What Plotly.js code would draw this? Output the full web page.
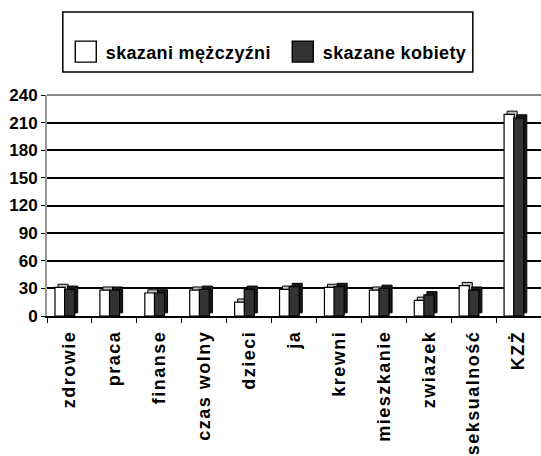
<!DOCTYPE html>
<html><head><meta charset="utf-8">
<script src="https://cdn.plot.ly/plotly-3.0.1.min.js"></script>
<style>
body{margin:0;padding:0;background:#fff}#chart{width:541px;height:456px}
#chart .xtick text{letter-spacing:1.5px}
#chart .legendtext{letter-spacing:0.35px}
</style>
</head><body><div id="chart"></div>
<script>
const categories = ["zdrowie","praca","finanse","czas wolny","dzieci","ja","krewni","mieszkanie","zwiazek","seksualność","KZŻ"];
const men = [31, 28, 25, 28, 15, 29, 31, 28, 17, 33, 219];
const women = [29, 28, 25, 29, 29, 32, 32, 30, 23, 28, 215];
const seriesNames = ["skazani mężczyźni", "skazane kobiety"];
const yTicks = [0,30,60,90,120,150,180,210,240];

const F = "Liberation Sans, Arial, sans-serif";
const W = 0.225, D = 0.067, DY = 3.5;
function front(y, name, color, off){
  return {type:"bar", x:categories, y:y, name:name, width:W, offset:off,
    marker:{color:color, line:{color:"#000", width:1.2}}};
}
function depth(y, color, off){
  return {type:"bar", x:categories, y:y, base:DY, width:W, offset:off+D, showlegend:false,
    marker:{color:color, line:{color:"#000", width:1}}};
}
const traces = [
  depth(men, "#bdbdbd", -0.322),
  front(men, seriesNames[0], "#ffffff", -0.322),
  depth(women, "#1a1a1a", -0.108),
  front(women, seriesNames[1], "#333333", -0.108)
];
const layout = {
  width:541, height:456,
  margin:{l:47, r:0, t:95, b:140},
  paper_bgcolor:"#fff", plot_bgcolor:"#fff",
  barmode:"overlay",
  showlegend:true,
  legend:{orientation:"h", x:0.038, y:1.195, xanchor:"left", yanchor:"middle",
    font:{family:F, size:18, color:"#000", weight:"bold"}, bgcolor:"rgba(0,0,0,0)",
    itemwidth:30, entrywidth:172, entrywidthmode:"pixels", traceorder:"normal"},
  font:{family:F, color:"#000"},
  xaxis:{type:"category", tickangle:-90, tickson:"boundaries", ticks:"outside", ticklen:5,
    tickcolor:"#000", showline:true, linecolor:"#000", linewidth:1.5, ticklabelstandoff:6,
    tickfont:{family:F, size:18, color:"#000", weight:"bold"}, showgrid:false},
  yaxis:{range:[0,240], tickvals:yTicks, ticktext:yTicks.map(String), ticks:"outside", ticklen:4,
    tickcolor:"#000", showline:true, linecolor:"#999", linewidth:2, mirror:false,
    gridcolor:"#000", gridwidth:2, zeroline:false,
    tickfont:{family:F, size:17, color:"#000", weight:"bold"}},
  shapes:[
    {type:"rect", xref:"paper", yref:"paper", x0:0.032, x1:0.862, y0:1.104, y1:1.376,
     line:{color:"#000", width:1.5}, fillcolor:"rgba(0,0,0,0)"},
    {type:"line", xref:"paper", yref:"paper", x0:0, x1:1, y0:1, y1:1, line:{color:"#888", width:2}}
  ]
};
Plotly.newPlot("chart", traces, layout, {staticPlot:true}).then(function(gd){
  gd.querySelectorAll(".legendpoints path").forEach(function(p){
    var t = p.getAttribute("transform") || "";
    p.setAttribute("transform", t + " scale(1.75)");
    p.style.strokeWidth = "0.8px";
  });
});
</script></body></html>
